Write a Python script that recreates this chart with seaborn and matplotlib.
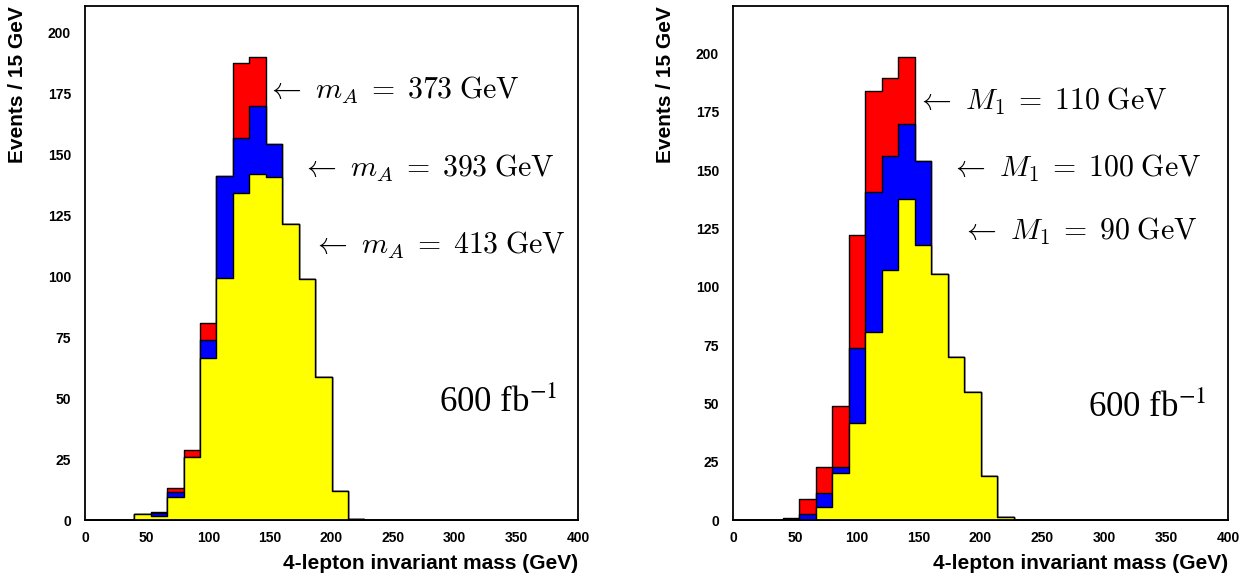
import numpy as np
import pandas as pd
import matplotlib
matplotlib.use("Agg")
import matplotlib.pyplot as plt
import seaborn as sns

# ---------------- data ----------------
bin_edges = list(np.linspace(0, 400, 31))          # 30 bins of 13.3 GeV
x_ticks = [0, 50, 100, 150, 200, 250, 300, 350, 400]
y_ticks = [0, 25, 50, 75, 100, 125, 150, 175, 200]

left_red = [0, 0, 0, 2.3, 3.2, 13.2, 28.8, 81.0, 141.3, 187.5, 190.0, 154.4, 121.5, 99.1, 58.9, 11.9, 0.5] + [0] * 13
left_blue = [0, 0, 0, 2.3, 2.7, 11.4, 25.7, 73.8, 141.3, 156.7, 170.0, 154.4, 121.5, 99.1, 58.9, 11.9, 0.5] + [0] * 13
left_yellow = [0, 0, 0, 2.3, 1.8, 9.4, 25.7, 66.4, 99.5, 134.4, 142.2, 140.6, 121.5, 99.1, 58.9, 11.9, 0.5] + [0] * 13

right_red = [0, 0, 0, 0.8, 9.0, 22.6, 49.0, 122.0, 184.0, 189.3, 198.3, 153.9, 105.3, 70.0, 55.0, 19.0, 1.4] + [0] * 13
right_blue = [0, 0, 0, 0.5, 2.4, 11.4, 22.6, 73.6, 140.6, 156.2, 169.6, 153.9, 105.3, 70.0, 55.0, 19.0, 1.4] + [0] * 13
right_yellow = [0, 0, 0, 0, 0, 5.7, 20.3, 41.7, 80.7, 107.0, 137.4, 117.9, 105.3, 70.0, 55.0, 19.0, 1.4] + [0] * 13

left_labels = [r"$\leftarrow\ m_A\;=\;373\;\mathrm{GeV}$",
               r"$\leftarrow\ m_A\;=\;393\;\mathrm{GeV}$",
               r"$\leftarrow\ m_A\;=\;413\;\mathrm{GeV}$"]
left_label_pos = [(147, 176.5), (175, 144.5), (184.5, 112.5)]
right_labels = [r"$\leftarrow\ M_1\;=\;110\;\mathrm{GeV}$",
                r"$\leftarrow\ M_1\;=\;100\;\mathrm{GeV}$",
                r"$\leftarrow\ M_1\;=\;90\;\mathrm{GeV}$"]
right_label_pos = [(148, 179.3), (175, 150.7), (184.5, 123.6)]
lumi_label = r"600 fb$^{-1}$"
xlabel = "4-lepton invariant mass (GeV)"
ylabel = "Events / 15 GeV"
colors = ["#ff0000", "#0000ff", "#ffff00"]

# ---------------- style ----------------
sns.set_style("white")
plt.rcParams['font.family'] = ['Liberation Sans', 'DejaVu Sans']
for key in ["text.color", "axes.labelcolor", "xtick.color", "ytick.color"]:
    plt.rcParams[key] = "black"

fig = plt.figure(figsize=(12.45, 5.82), dpi=100)
W, H = 1245, 582
ax_l = fig.add_axes([85 / W, (H - 520) / H, (578 - 85) / W, (520 - 6) / H])
ax_r = fig.add_axes([733 / W, (H - 520) / H, (1228 - 733) / W, (520 - 6) / H])

edges_arr = np.array(bin_edges)
centers = list(0.5 * (edges_arr[:-1] + edges_arr[1:]))


def panel(ax, series, ymax, labels, label_pos, ylab_x):
    for vals, c in zip(series, colors):
        df = pd.DataFrame({"mass": centers, "events": vals})
        sns.histplot(data=df, x="mass", weights="events", bins=bin_edges,
                     element="step", fill=True, color=c, alpha=1,
                     edgecolor="black", linewidth=1.0, ax=ax)
    ax.set_xlim(0, 400)
    ax.set_ylim(0, ymax)
    ax.set_xticks(x_ticks)
    ax.set_yticks(y_ticks)
    ax.tick_params(axis="both", length=0, labelsize=10)
    ax.tick_params(axis="y", pad=10)
    ax.tick_params(axis="x", pad=8)
    for t in ax.get_xticklabels() + ax.get_yticklabels():
        t.set_fontweight("bold")
    for s in ax.spines.values():
        s.set_color("black")
        s.set_linewidth(1.3)
    ax.set_xlabel(xlabel, fontsize=15, fontweight="bold", loc="right")
    ax.xaxis.set_label_coords(1.0, -0.066)
    ax.set_ylabel(ylabel, fontsize=15, fontweight="bold", loc="top")
    ax.yaxis.set_label_coords(ylab_x, 1.0)
    for txt, (x, y) in zip(labels, label_pos):
        ax.text(x, y, txt, fontsize=21.5, ha="left", va="center",
                math_fontfamily="cm")
    ax.text(287, 48, lumi_label, fontsize=25, ha="left", va="center",
            family=["Liberation Serif", "DejaVu Serif"], math_fontfamily="stix")


panel(ax_l, [left_red, left_blue, left_yellow], 211, left_labels, left_label_pos, -0.118)
panel(ax_r, [right_red, right_blue, right_yellow], 220.3, right_labels, right_label_pos, -0.118)

fig.savefig("out.png", dpi=100)
